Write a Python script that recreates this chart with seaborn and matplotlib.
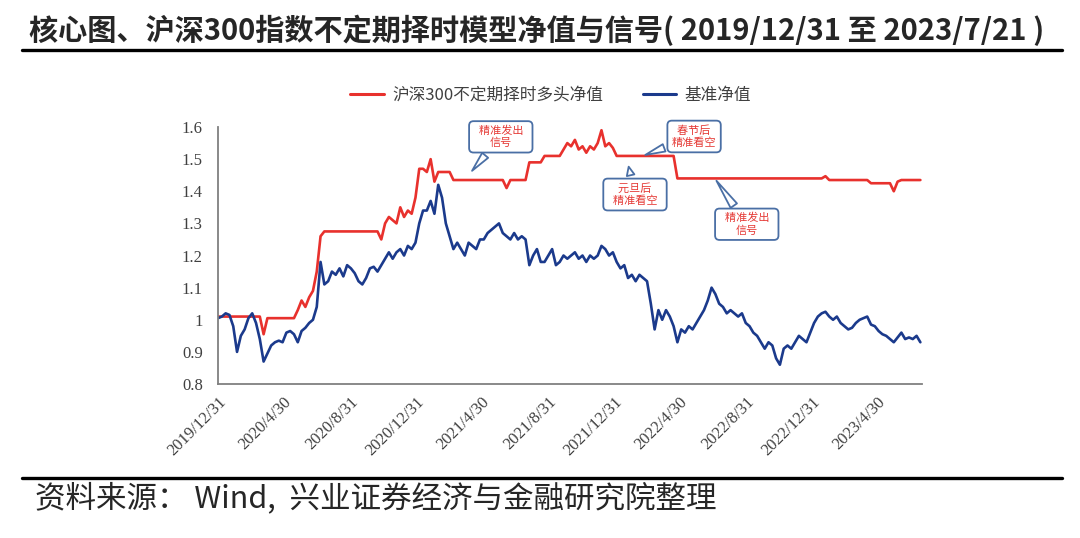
import pandas as pd
import seaborn as sns
import matplotlib.pyplot as plt
from matplotlib.lines import Line2D

# weekly points, starting 2019/12/31
start_date = "2019-12-31"
n_weeks = 186

benchmark = [
    1.005, 1.01, 1.02, 1.015, 0.98, 0.90, 0.95, 0.97, 1.005, 1.02,
    0.99, 0.94, 0.87, 0.895, 0.92, 0.93, 0.935, 0.93, 0.96, 0.965,
    0.955, 0.93, 0.965, 0.975, 0.99, 1.0, 1.04, 1.18, 1.11, 1.12,
    1.15, 1.14, 1.16, 1.135, 1.17, 1.16, 1.145, 1.12, 1.11, 1.13,
    1.16, 1.165, 1.15, 1.17, 1.19, 1.21, 1.19, 1.21, 1.22, 1.20,
    1.23, 1.22, 1.24, 1.30, 1.34, 1.34, 1.37, 1.33, 1.42, 1.38,
    1.30, 1.26, 1.22, 1.24, 1.22, 1.20, 1.24, 1.23, 1.22, 1.25,
    1.25, 1.27, 1.28, 1.29, 1.30, 1.27, 1.26, 1.25, 1.27, 1.25,
    1.26, 1.25, 1.17, 1.20, 1.22, 1.18, 1.18, 1.20, 1.22, 1.17,
    1.18, 1.20, 1.19, 1.20, 1.21, 1.19, 1.20, 1.18, 1.20, 1.19,
    1.20, 1.23, 1.22, 1.20, 1.21, 1.18, 1.16, 1.17, 1.13, 1.14,
    1.12, 1.14, 1.13, 1.12, 1.05, 0.97, 1.03, 1.00, 1.03, 1.01,
    0.98, 0.93, 0.97, 0.96, 0.98, 0.97, 0.99, 1.01, 1.03, 1.06,
    1.10, 1.08, 1.05, 1.04, 1.02, 1.03, 1.02, 1.01, 1.02, 0.99,
    0.98, 0.96, 0.95, 0.93, 0.91, 0.93, 0.92, 0.88, 0.86, 0.91,
    0.92, 0.91, 0.93, 0.95, 0.94, 0.93, 0.96, 0.99, 1.01, 1.02,
    1.025, 1.01, 1.00, 1.01, 0.99, 0.98, 0.97, 0.975, 0.99, 1.00,
    1.005, 1.01, 0.985, 0.98, 0.965, 0.955, 0.95, 0.94, 0.93, 0.945,
    0.96, 0.94, 0.945, 0.94, 0.95, 0.93,
]

strategy = (
    [1.01] * 12 + [0.955] + [1.005] * 8
    + [1.03, 1.06, 1.04, 1.07, 1.09, 1.15, 1.26]
    + [1.275] * 15
    + [1.25, 1.30, 1.32, 1.31, 1.30, 1.35, 1.32, 1.34, 1.33, 1.38,
       1.47, 1.47, 1.46, 1.50, 1.43]
    + [1.46] * 4 + [1.435] * 14 + [1.41] + [1.435] * 5
    + [1.49] * 4 + [1.51] * 5
    + [1.53, 1.55, 1.54, 1.56, 1.53, 1.54, 1.52, 1.54, 1.53, 1.55,
       1.59, 1.54, 1.55, 1.535]
    + [1.51] * 16 + [1.44] * 39 + [1.447] + [1.435] * 11
    + [1.425] * 6 + [1.40, 1.43] + [1.435] * 6
)

series_names = ["沪深300不定期择时多头净值", "基准净值"]
series_colors = ["#E8312D", "#1B3A8C"]

tick_dates = ["2019-12-31", "2020-04-30", "2020-08-31", "2020-12-31",
              "2021-04-30", "2021-08-31", "2021-12-31", "2022-04-30",
              "2022-08-31", "2022-12-31", "2023-04-30"]
y_ticks = [0.8, 0.9, 1.0, 1.1, 1.2, 1.3, 1.4, 1.5, 1.6]

# callouts: (text, date of tip, value of tip, box offset in points)
callouts = [
    ("  精准发出  \n信号", "2021-04-09", 1.457, (22, 26)),
    ("  春节后  \n精准看空", "2022-02-21", 1.51, (37, 14)),
    ("  元旦后  \n  精准看空  ", "2022-01-25", 1.485, (5, -22)),
    ("  精准发出  \n信号", "2022-07-04", 1.44, (23, -33)),
]


def build_frame():
    dates = pd.date_range(start_date, periods=n_weeks, freq="7D")
    df = pd.DataFrame({"date": dates,
                       series_names[0]: strategy,
                       series_names[1]: benchmark})
    return df.melt(id_vars="date", var_name="series", value_name="nav")


def draw(df):
    sns.set_theme(style="white")
    plt.rcParams["font.family"] = ["Noto Sans CJK SC", "DejaVu Sans"]

    fig = plt.figure(figsize=(10.8, 5.38), dpi=100)
    ax = fig.add_axes([0.2019, 0.2862, 0.6518, 0.4777])

    sns.lineplot(data=df, x="date", y="nav", hue="series",
                 hue_order=series_names,
                 palette=dict(zip(series_names, series_colors)),
                 linewidth=1.9, legend=False, ax=ax)

    ax.set_xlim(pd.Timestamp(start_date), pd.Timestamp("2023-07-21"))
    ax.set_ylim(0.8, 1.6)
    ax.set_xlabel("")
    ax.set_ylabel("")

    ticks = pd.to_datetime(tick_dates)
    ax.set_xticks(ticks)
    ax.set_xticklabels([f"{d.year}/{d.month}/{d.day}" for d in ticks],
                       rotation=45, ha="right", rotation_mode="anchor",
                       family="Liberation Serif", fontsize=12,
                       color="#404040")
    ax.set_yticks(y_ticks)
    ax.set_yticklabels([f"{v:g}" for v in y_ticks],
                       family="Liberation Serif", fontsize=12,
                       color="#404040")
    ax.tick_params(axis="x", direction="in", length=5, width=1,
                   color="#808080", pad=7)
    ax.tick_params(axis="y", length=0, pad=11)

    for side in ["top", "right"]:
        ax.spines[side].set_visible(False)
    for side in ["left", "bottom"]:
        ax.spines[side].set_color("#808080")
        ax.spines[side].set_linewidth(1.3)

    # speech-bubble callouts
    for text, day, val, offset in callouts:
        ax.annotate(text, xy=(pd.Timestamp(day), val), xytext=offset,
                    textcoords="offset points", ha="center", va="center",
                    multialignment="center",
                    fontsize=8, color="#E53935", linespacing=1.2,
                    bbox=dict(boxstyle="round,pad=0.4", fc="white",
                              ec="#4A6FA5", lw=1.3),
                    arrowprops=dict(arrowstyle="wedge,tail_width=0.7",
                                    fc="white", ec="#4A6FA5", lw=1.3))

    handles = [Line2D([], [], color=c, lw=2.2) for c in series_colors]
    fig.legend(handles, series_names, loc="center",
               bbox_to_anchor=(0.51, 0.823), ncol=2, frameon=False,
               fontsize=12, handlelength=2.0, handletextpad=0.5,
               columnspacing=2.4, labelcolor="#404040")

    # title, rules and source note
    fig.text(0.027, 0.944, "核心图、沪深300指数不定期择时模型净值与信号( 2019/12/31 至 2023/7/21 )",
             fontsize=21, fontweight="bold", va="center", ha="left")
    fig.add_artist(Line2D([0.02, 0.983], [0.907, 0.907], color="black", lw=2.4))
    fig.add_artist(Line2D([0.02, 0.983], [0.111, 0.111], color="black", lw=2.4))
    fig.text(0.032, 0.074, "资料来源： Wind,  兴业证券经济与金融研究院整理",
             fontsize=22, va="center", ha="left")

    fig.savefig("out.png", dpi=100)


draw(build_frame())
